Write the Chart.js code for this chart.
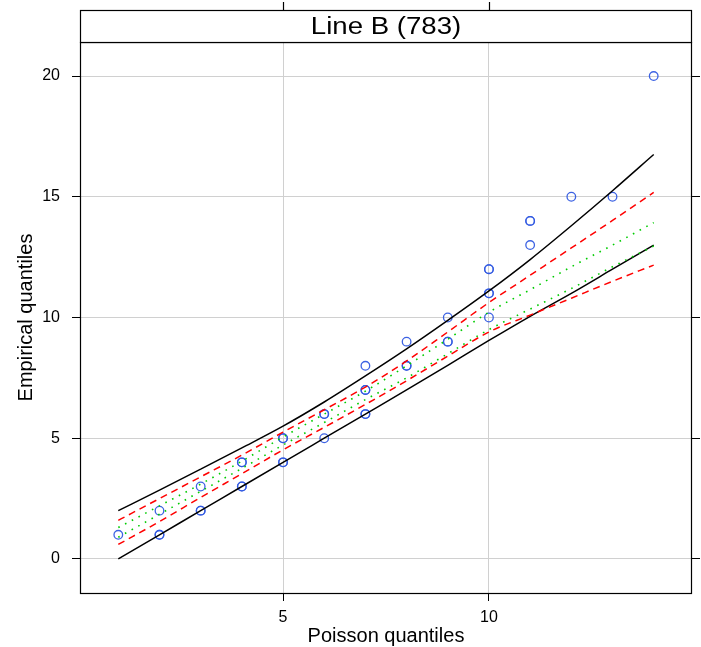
<!DOCTYPE html>
<html lang="en">
<head>
    <meta charset="UTF-8">
    <script src="https://cdn.jsdelivr.net/npm/chart.js"></script>
    <title>Line B (783)</title>
    <style>
        html, body { margin: 0; padding: 0; background: #fff; }
        #wrap { width: 701px; height: 647px; }
    </style>
</head>
<body>
    <div id="wrap">
        <canvas id="qq"></canvas>
    </div>
    <script>
        // panel
        const panelTitle = 'Line B (783)';

        // observed quantiles (duplicates = overplotted points)
        const qX = [1, 2, 2, 2, 3, 3, 3, 4, 4, 4, 4, 5, 5, 5, 5, 6, 6, 6, 7, 7, 7, 7, 7, 8, 8, 8, 9, 9, 9, 10, 10, 10, 10, 10, 11, 11, 11, 12, 13, 14];
        const qY = [1, 1, 1, 2, 2, 2, 3, 3, 3, 4, 4, 4, 4, 5, 5, 5, 6, 6, 6, 6, 7, 7, 8, 8, 8, 9, 9, 9, 10, 10, 11, 11, 12, 12, 13, 14, 14, 15, 15, 20];

        // reference / envelope lines, evaluated at x = 1..14
        const bandX = [1, 2, 3, 4, 5, 6, 7, 8, 9, 10, 11, 12, 13, 14];
        const blackUpper = [2.0, 2.85, 3.72, 4.6, 5.5, 6.5, 7.58, 8.7, 9.88, 11.1, 12.4, 13.8, 15.25, 16.75];
        const blackLower = [0, 1, 2, 3, 4, 5, 6, 7, 8.02, 9.05, 10.05, 11.0, 12.0, 13.0];
        const redUpper = [1.6, 2.5, 3.4, 4.3, 5.25, 6.18, 7.12, 8.2, 9.4, 10.62, 11.75, 12.88, 14.02, 15.18];
        const redLower = [0.6, 1.55, 2.55, 3.53, 4.52, 5.45, 6.4, 7.38, 8.4, 9.4, 10.1, 10.8, 11.5, 12.17];
        const greenUpper = [1.3, 2.2, 3.1, 4.05, 5.05, 6.0, 6.95, 8.0, 9.1, 10.22, 11.15, 12.1, 13.0, 13.93];
        const greenLower = [0.9, 1.85, 2.8, 3.75, 4.72, 5.65, 6.6, 7.5, 8.5, 9.5, 10.35, 11.2, 12.1, 12.96];

        // axes
        const xTicks = [5, 10];
        const yTicks = [0, 5, 10, 15, 20];
        const xRange = [0.07, 14.93];
        const yRange = [-1.41, 21.41];

        const FONT = '"Liberation Sans", Arial, sans-serif';

        function toXY(xs, ys) {
            return xs.map((x, i) => ({ x: x, y: ys[i] }));
        }

        function lineSet(ys, color, dash, width) {
            return {
                type: 'line',
                data: toXY(bandX, ys),
                borderColor: color,
                borderWidth: width,
                borderDash: dash,
                pointRadius: 0,
                fill: false,
                cubicInterpolationMode: 'monotone'
            };
        }

        // panel frame, lattice-style strip on top, and the top tick marks
        const stripPlugin = {
            id: 'strip',
            afterDraw(chart) {
                const { ctx, chartArea: a } = chart;
                const x = chart.scales.x;
                const top = 10.5;
                const L = Math.round(a.left) + 0.5, R = Math.round(a.right) - 0.5;
                const B = Math.round(a.bottom) + 0.5, T = Math.round(a.top) + 0.5;
                ctx.save();
                ctx.strokeStyle = '#000';
                ctx.lineWidth = 1.2;
                ctx.strokeRect(L, T, R - L, B - T);
                ctx.fillStyle = '#fff';
                ctx.fillRect(L, top, R - L, T - top);
                ctx.strokeRect(L, top, R - L, T - top);
                xTicks.forEach(v => {
                    const px = Math.round(x.getPixelForValue(v)) + 0.5;
                    ctx.beginPath();
                    ctx.moveTo(px, 2);
                    ctx.lineTo(px, top);
                    ctx.stroke();
                });
                ctx.fillStyle = '#000';
                ctx.font = '23px ' + FONT;
                ctx.textAlign = 'center';
                ctx.textBaseline = 'alphabetic';
                ctx.translate((a.left + a.right) / 2, 34);
                ctx.scale(1.2, 1);
                ctx.fillText(panelTitle, 0, 0);
                ctx.restore();
            }
        };

        const ctx = document.getElementById('qq');

        new Chart(ctx, {
            type: 'scatter',
            data: {
                datasets: [
                    lineSet(greenUpper, '#00cc00', [1.6, 6], 1.6),
                    lineSet(greenLower, '#00cc00', [1.6, 6], 1.6),
                    lineSet(redUpper, '#ff0000', [7, 5], 1.5),
                    lineSet(redLower, '#ff0000', [7, 5], 1.5),
                    lineSet(blackUpper, '#000000', [], 1.5),
                    lineSet(blackLower, '#000000', [], 1.5),
                    {
                        type: 'scatter',
                        data: toXY(qX, qY),
                        pointStyle: 'circle',
                        pointRadius: 4.3,
                        borderWidth: 1.3,
                        borderColor: 'rgba(50, 90, 225, 0.95)',
                        backgroundColor: 'rgba(0,0,0,0)'
                    }
                ]
            },
            options: {
                responsive: true,
                maintainAspectRatio: false,
                animation: false,
                layout: { padding: { top: 42, left: 0, right: 0, bottom: 0 } },
                plugins: {
                    legend: { display: false },
                    tooltip: { enabled: false }
                },
                scales: {
                    x: {
                        type: 'linear',
                        position: 'bottom',
                        min: xRange[0],
                        max: xRange[1],
                        afterBuildTicks: s => { s.ticks = xTicks.map(v => ({ value: v })); },
                        afterFit: s => { s.height = 54; },
                        ticks: { color: '#000', font: { family: FONT, size: 16 }, padding: 7, maxRotation: 0 },
                        grid: { color: '#d0d0d0', lineWidth: 1, tickColor: '#000', tickLength: 8 },
                        border: { display: false },
                        title: {
                            display: true,
                            text: 'Poisson quantiles',
                            color: '#000',
                            font: { family: FONT, size: 20 },
                            padding: { top: 0, bottom: -1 }
                        }
                    },
                    y: {
                        type: 'linear',
                        position: 'left',
                        min: yRange[0],
                        max: yRange[1],
                        afterBuildTicks: s => { s.ticks = yTicks.map(v => ({ value: v })); },
                        afterFit: s => { s.width = 80; },
                        ticks: { color: '#000', font: { family: FONT, size: 16 }, padding: 12 },
                        grid: { color: '#d0d0d0', lineWidth: 1, tickColor: '#000', tickLength: 8 },
                        border: { display: false },
                        title: {
                            display: true,
                            text: 'Empirical quantiles',
                            color: '#000',
                            font: { family: FONT, size: 20 },
                            padding: { top: 14, bottom: 0 }
                        }
                    },
                    y2: {
                        type: 'linear',
                        position: 'right',
                        min: yRange[0],
                        max: yRange[1],
                        afterBuildTicks: s => { s.ticks = yTicks.map(v => ({ value: v })); },
                        afterFit: s => { s.width = 9; },
                        ticks: { display: false },
                        grid: { drawOnChartArea: false, tickColor: '#000', tickLength: 8 },
                        border: { display: false }
                    }
                }
            },
            plugins: [stripPlugin]
        });
    </script>
</body>
</html>
